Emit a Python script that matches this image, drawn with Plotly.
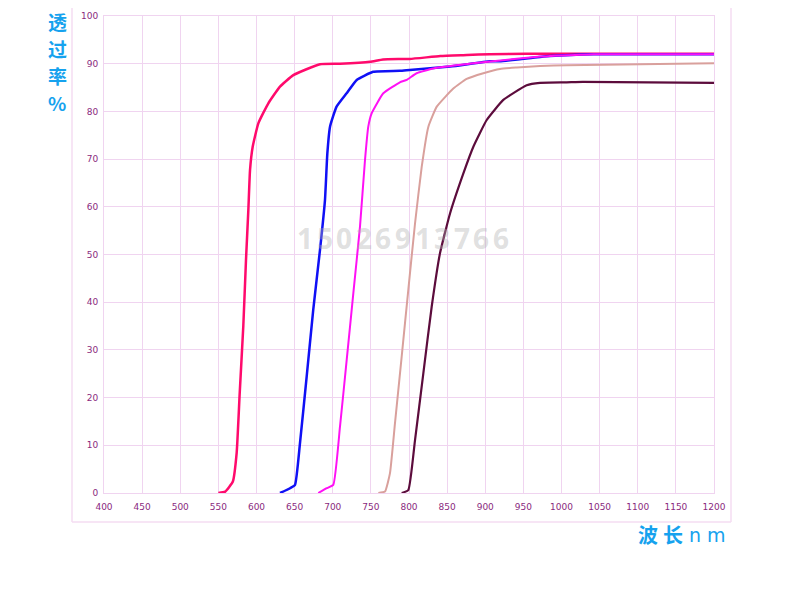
import plotly.graph_objects as go

# ---- data ----
pink_x = [550, 559, 569, 574, 578, 582.7, 586.2, 589.3, 591.5, 595, 602.4, 615.5, 630.8, 648.3, 683.3, 709.5, 749, 766, 801, 841, 876, 906, 954, 1000, 1200]
pink_y = [0, 0.3, 2.4, 8.4, 21, 35, 48.8, 59.3, 67.7, 72.6, 77.5, 81.7, 85.2, 87.6, 89.9, 90.0, 90.4, 90.9, 91.0, 91.6, 91.8, 92.0, 92.1, 92.1, 92.1]

blue_x = [630.8, 644, 650.5, 657, 665.8, 674.4, 683.3, 689.8, 692.9, 696.4, 705, 718.2, 731.4, 753, 788, 801, 854, 906, 919, 972, 985, 1042, 1200]
blue_y = [0, 1, 1.7, 10.4, 24.4, 38.4, 51, 61.4, 71.2, 76.8, 81, 83.8, 86.6, 88.3, 88.5, 88.7, 89.4, 90.5, 90.5, 91.4, 91.6, 92.0, 92.0]

mag_x = [681, 692, 700.7, 709.5, 718.3, 727, 735.7, 742.3, 746.6, 751, 766.3, 788, 797, 810, 831.8, 884.3, 897, 972, 985, 1042, 1200]
mag_y = [0, 1, 1.7, 13.9, 27.9, 41.9, 55.8, 69.8, 76.8, 79.6, 83.8, 86.1, 86.6, 88.0, 89.0, 90.1, 90.3, 91.5, 91.6, 92.0, 92.0]

rose_x = [759.8, 768.5, 775, 781.6, 790.4, 799.1, 807.9, 816.7, 825.4, 836.4, 858.1, 875.6, 897.5, 919.4, 941.3, 971.8, 1006.8, 1200]
rose_y = [0, 0.3, 4.1, 14.6, 28.6, 42.6, 56.5, 68.4, 76.8, 81, 84.8, 86.8, 88.0, 88.9, 89.2, 89.5, 89.7, 90.1]

maroon_x = [790.4, 799.1, 807.9, 818.8, 829.8, 840.7, 853.8, 871.3, 884.4, 901.9, 923.7, 954.3, 971.8, 1006.8, 1028, 1200]
maroon_y = [0, 0.6, 11.1, 25.1, 39.1, 50.3, 58.6, 67, 72.6, 78.2, 82.4, 85.5, 86.0, 86.1, 86.2, 86.0]

x_ticks = list(range(400, 1201, 50))
y_ticks = list(range(0, 101, 10))

series = [
    (pink_x, pink_y, "#ff0a6c", 2.5),
    (blue_x, blue_y, "#1010f5", 2.5),
    (mag_x, mag_y, "#ff10f5", 2.0),
    (rose_x, rose_y, "#d9a09c", 2.0),
    (maroon_x, maroon_y, "#5c0c3c", 2.2),
]

fig = go.Figure()
for xs, ys, col, w in series:
    fig.add_trace(go.Scatter(x=xs, y=ys, mode="lines",
                             line=dict(color=col, width=w, shape="spline", smoothing=0.4),
                             showlegend=False, hoverinfo="skip"))

grid_col = "#f0d4f0"
tick_font = dict(family="DejaVu Sans", size=9, color="#8a2a7e")

# the page body has an 8px margin; compensate so the plot lands where the reference has it
OFF = 8
W, H = 800, 595
L, R, T, B = 104 - OFF, 714 - OFF, 16 - OFF, 493 - OFF

fig.update_layout(
    width=W, height=H,
    margin=dict(l=L, r=W - R, t=T, b=H - B, autoexpand=False),
    plot_bgcolor="white", paper_bgcolor="white",
    xaxis=dict(range=[400, 1200], tickvals=x_ticks, ticktext=[str(v) for v in x_ticks],
               showgrid=True, gridcolor=grid_col, gridwidth=1,
               showline=True, linecolor=grid_col, linewidth=1, mirror=True,
               zeroline=False, ticks="outside", ticklen=5, tickcolor="rgba(0,0,0,0)",
               tickfont=tick_font),
    yaxis=dict(range=[0, 100], tickvals=y_ticks, ticktext=[str(v) for v in y_ticks],
               showgrid=True, gridcolor=grid_col, gridwidth=1,
               showline=True, linecolor=grid_col, linewidth=1, mirror=True,
               zeroline=False, ticks="outside", ticklen=3, tickcolor="rgba(0,0,0,0)",
               tickfont=tick_font),
)

# convert screen pixel positions (reference image) to paper coords
def px(xp):
    return (xp - OFF - L) / (R - L)

def py(yp):
    return (B - (yp - OFF)) / (B - T)

# outer frame (left, right, bottom)
frame_col = "#f4dcf2"
fig.add_shape(type="line", xref="paper", yref="paper", x0=px(72), x1=px(72), y0=py(0), y1=py(522),
              line=dict(color=frame_col, width=1.5))
fig.add_shape(type="line", xref="paper", yref="paper", x0=px(731), x1=px(731), y0=py(8), y1=py(522),
              line=dict(color=frame_col, width=1.5))
fig.add_shape(type="line", xref="paper", yref="paper", x0=px(72), x1=px(731), y0=py(522), y1=py(522),
              line=dict(color=frame_col, width=1.5))

title_col = "#16a2ee"
title_font = dict(family="Noto Sans CJK SC", size=19, color=title_col)
for ch, yy in zip(["透", "过", "率", "%"], [22, 49, 76, 102]):
    fig.add_annotation(text="<b>%s</b>" % ch, xref="paper", yref="paper", x=px(57), y=py(yy),
                       showarrow=False, xanchor="center", yanchor="middle", font=title_font)

for ch, xx in zip(["波", "长"], [648, 673]):
    fig.add_annotation(text="<b>%s</b>" % ch, xref="paper", yref="paper", x=px(xx), y=py(534),
                       showarrow=False, xanchor="center", yanchor="middle",
                       font=dict(family="Noto Sans CJK SC", size=20, color=title_col))
fig.add_annotation(text="n m", xref="paper", yref="paper", x=px(707), y=py(535),
                   showarrow=False, xanchor="center", yanchor="middle",
                   font=dict(family="DejaVu Sans", size=19, color=title_col))

# watermark
wm = "15026913766"
for i, ch in enumerate(wm):
    fig.add_annotation(text="<b>%s</b>" % ch, xref="paper", yref="paper", x=px(305 + i * 19.6), y=py(238),
                       showarrow=False, xanchor="center", yanchor="middle",
                       font=dict(family="Noto Sans", size=28, color="rgba(175,175,175,0.4)"))

fig.write_html("out.html")
